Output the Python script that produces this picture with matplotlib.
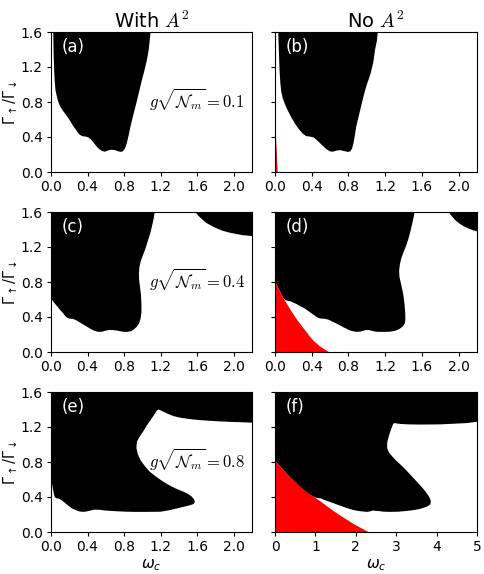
import numpy as np
import matplotlib
matplotlib.use('Agg')
import matplotlib.pyplot as plt

# boundaries of the black (unstable) and red regions
#(a) with A^2, g sqrt(N)=0.1
a_x = [0.025, 0.027, 0.03, 0.035, 0.042, 0.05, 0.065, 0.08, 0.10, 0.13, 0.16, 0.20, 0.24, 0.28, 0.31,
       0.34, 0.38, 0.41, 0.44, 0.47, 0.50, 0.53, 0.56, 0.59, 0.62, 0.66, 0.70, 0.74, 0.77, 0.79, 0.81,
       0.83, 0.85, 0.87, 0.90, 0.93, 0.96, 0.99, 1.02, 1.05, 1.07, 1.08, 1.09]
a_y = [1.60, 1.45, 1.30, 1.15, 1.02, 0.93, 0.86, 0.80, 0.75, 0.70, 0.66, 0.60, 0.53, 0.47, 0.43,
       0.41, 0.405, 0.395, 0.37, 0.33, 0.29, 0.26, 0.24, 0.232, 0.245, 0.255, 0.25, 0.235, 0.23, 0.24, 0.27,
       0.33, 0.42, 0.52, 0.65, 0.77, 0.90, 1.03, 1.15, 1.28, 1.40, 1.50, 1.60]
#(b) no A^2, 0.1
b_x = [0.036, 0.04, 0.045, 0.05, 0.058, 0.068, 0.085, 0.11, 0.14, 0.18, 0.22, 0.26, 0.30, 0.34, 0.38,
       0.42, 0.45, 0.48, 0.52, 0.56, 0.60, 0.63, 0.67, 0.71, 0.75, 0.79, 0.82, 0.84, 0.855, 0.87, 0.885,
       0.91, 0.94, 0.97, 1.00, 1.04, 1.07, 1.09, 1.11, 1.12]
b_y = [1.60, 1.45, 1.30, 1.15, 1.02, 0.92, 0.84, 0.77, 0.70, 0.62, 0.55, 0.49, 0.44, 0.41, 0.405,
       0.395, 0.37, 0.34, 0.30, 0.26, 0.235, 0.232, 0.245, 0.25, 0.24, 0.23, 0.235, 0.27, 0.33, 0.42, 0.52,
       0.63, 0.76, 0.89, 1.00, 1.12, 1.25, 1.40, 1.50, 1.60]
b_red_x = [0.0, 0.0, 0.03]
b_red_y = [0.0, 0.65, 0.0]
#(c) with A^2, 0.4
c_x = [0.0, 0.0, 0.015, 0.04, 0.07, 0.10, 0.135, 0.165, 0.19, 0.22, 0.25, 0.28, 0.32, 0.36, 0.40, 0.44,
       0.48, 0.52, 0.56, 0.60, 0.64, 0.68, 0.72, 0.76, 0.80, 0.84, 0.88, 0.91, 0.94, 0.965, 0.98, 0.99,
       0.99, 0.985, 0.975, 0.965, 0.962, 0.968, 0.98, 1.00, 1.03, 1.06, 1.09, 1.11, 1.125, 1.135]
c_y = [1.60, 0.63, 0.59, 0.555, 0.52, 0.48, 0.44, 0.40, 0.385, 0.38, 0.375, 0.36, 0.335, 0.31, 0.285, 0.26,
       0.24, 0.23, 0.232, 0.245, 0.252, 0.25, 0.245, 0.237, 0.23, 0.23, 0.24, 0.26, 0.29, 0.33, 0.38, 0.45,
       0.55, 0.65, 0.74, 0.82, 0.90, 0.97, 1.03, 1.09, 1.17, 1.27, 1.37, 1.46, 1.53, 1.60]
c2_x = [1.58, 1.61, 1.65, 1.70, 1.76, 1.82, 1.88, 1.95, 2.02, 2.10, 2.20, 2.20]
c2_y = [1.60, 1.56, 1.52, 1.475, 1.44, 1.41, 1.385, 1.365, 1.35, 1.335, 1.325, 1.60]
#(d) no A^2, 0.4
d_x = [0.0, 0.0, 0.03, 0.06, 0.09, 0.11, 0.14, 0.17, 0.20, 0.24, 0.28, 0.32, 0.36, 0.40, 0.44, 0.47,
       0.50, 0.54, 0.58, 0.62, 0.66, 0.70, 0.74, 0.78, 0.82, 0.86, 0.90, 0.94, 0.98, 1.02, 1.06, 1.10,
       1.15, 1.20, 1.25, 1.30, 1.35, 1.39, 1.415, 1.42, 1.418, 1.41, 1.40, 1.385, 1.37, 1.355, 1.352,
       1.36, 1.375, 1.40, 1.43, 1.455, 1.475, 1.495, 1.51, 1.52]
d_y = [1.60, 0.81, 0.745, 0.68, 0.62, 0.595, 0.585, 0.578, 0.565, 0.545, 0.52, 0.50, 0.47, 0.44, 0.41, 0.39,
       0.382, 0.38, 0.37, 0.35, 0.33, 0.31, 0.285, 0.265, 0.245, 0.235, 0.23, 0.235, 0.25, 0.252, 0.24, 0.232,
       0.23, 0.23, 0.232, 0.24, 0.26, 0.29, 0.33, 0.38, 0.45, 0.55, 0.64, 0.72, 0.79, 0.86, 0.93,
       1.00, 1.07, 1.14, 1.22, 1.30, 1.38, 1.47, 1.54, 1.60]
d2_x = [1.89, 1.92, 1.96, 2.00, 2.05, 2.11, 2.16, 2.20, 2.20]
d2_y = [1.60, 1.56, 1.51, 1.475, 1.44, 1.41, 1.39, 1.38, 1.60]
d_red_x = [0.0, 0.0, 0.03, 0.06, 0.09, 0.13, 0.17, 0.21, 0.25, 0.29, 0.33, 0.37, 0.41, 0.45, 0.49, 0.54, 0.586]
d_red_y = [0.0, 0.81, 0.745, 0.68, 0.62, 0.55, 0.48, 0.415, 0.355, 0.30, 0.245, 0.19, 0.14, 0.10, 0.065, 0.03, 0.0]
#(e) with A^2, 0.8
e_x = [0.0, 0.0, 0.01, 0.02, 0.03, 0.04, 0.06, 0.09, 0.12, 0.15, 0.19, 0.23, 0.27, 0.31, 0.35, 0.39,
       0.43, 0.47, 0.52, 0.60, 0.70, 0.80, 0.91, 1.05, 1.20, 1.30, 1.38, 1.46, 1.52, 1.56, 1.575, 1.565,
       1.54, 1.50, 1.44, 1.38, 1.32, 1.26, 1.20, 1.14, 1.08, 1.03, 0.98, 0.95, 0.935, 0.94, 0.97, 1.01,
       1.05, 1.09, 1.13, 1.16, 1.18, 1.22, 1.28, 1.34, 1.42, 1.52, 1.64, 1.78, 1.93, 2.06, 2.20, 2.20]
e_y = [1.60, 0.63, 0.56, 0.50, 0.44, 0.40, 0.385, 0.38, 0.36, 0.335, 0.30, 0.27, 0.25, 0.235, 0.23, 0.235,
       0.245, 0.255, 0.255, 0.245, 0.238, 0.233, 0.23, 0.23, 0.232, 0.25, 0.27, 0.29, 0.305, 0.32, 0.345, 0.375,
       0.405, 0.435, 0.465, 0.49, 0.52, 0.555, 0.595, 0.64, 0.69, 0.75, 0.82, 0.89, 0.96, 1.03, 1.09, 1.15,
       1.22, 1.28, 1.34, 1.39, 1.40, 1.38, 1.35, 1.325, 1.305, 1.29, 1.278, 1.268, 1.26, 1.255, 1.25, 1.60]
#(f) no A^2, 0.8
f_x = [0.0, 0.0, 0.1, 0.2, 0.32, 0.45, 0.52, 0.62, 0.72, 0.82, 0.92, 1.02, 1.12, 1.16, 1.2, 1.35,
       1.5, 1.65, 1.8, 1.95, 2.1, 2.27, 2.35, 2.42, 2.55, 2.7, 2.85, 3.05, 3.25, 3.43, 3.6, 3.76,
       3.84, 3.86, 3.84, 3.79, 3.72, 3.63, 3.52, 3.40, 3.26, 3.12, 3.00, 2.90, 2.82, 2.775, 2.78, 2.82,
       2.87, 2.92, 2.95, 3.1, 3.3, 3.6, 4.09, 4.45, 4.75, 5.0, 5.0]
f_y = [1.60, 0.82, 0.765, 0.71, 0.65, 0.59, 0.56, 0.51, 0.47, 0.44, 0.41, 0.39, 0.385, 0.38, 0.37, 0.345,
       0.32, 0.295, 0.27, 0.25, 0.238, 0.23, 0.235, 0.245, 0.24, 0.232, 0.23, 0.232, 0.24, 0.25, 0.265, 0.29,
       0.315, 0.345, 0.38, 0.42, 0.465, 0.515, 0.57, 0.63, 0.70, 0.765, 0.815, 0.865, 0.91, 0.96, 1.03, 1.10,
       1.17, 1.23, 1.245, 1.235, 1.23, 1.228, 1.23, 1.238, 1.245, 1.26, 1.60]
f_red_x = [0.0, 0.0, 0.1, 0.2, 0.32, 0.45, 0.6, 0.75, 0.9, 1.03, 1.17, 1.3, 1.45, 1.61, 1.78, 1.95, 2.13, 2.31]
f_red_y = [0.0, 0.82, 0.765, 0.71, 0.65, 0.59, 0.53, 0.47, 0.42, 0.38, 0.335, 0.29, 0.24, 0.19, 0.14, 0.09, 0.045, 0.0]

labels = ['(a)', '(b)', '(c)', '(d)', '(e)', '(f)']
couplings = ['0.1', '0.4', '0.8']
black = [[(a_x, a_y)], [(b_x, b_y)], [(c_x, c_y), (c2_x, c2_y)], [(d_x, d_y), (d2_x, d2_y)],
         [(e_x, e_y)], [(f_x, f_y)]]
red = [None, (b_red_x, b_red_y), None, (d_red_x, d_red_y), None, (f_red_x, f_red_y)]

fig = plt.figure(figsize=(4.84, 5.74), dpi=100)
lefts = [51/484, 275/484]
widths = [201/484, 202/484]
bottoms = [1-172/574, 1-352/574, 1-532/574]
h = 140/574

for k in range(6):
    r, c = k // 2, k % 2
    ax = fig.add_axes([lefts[c], bottoms[r], widths[c], h])
    for px, py in black[k]:
        ax.fill(px, py, color='black', lw=0)
    if red[k] is not None:
        ax.fill(red[k][0], red[k][1], color='red', lw=0)
    ax.set_ylim(0, 1.6)
    ax.set_yticks([0.0, 0.4, 0.8, 1.2, 1.6])
    if k == 5:
        ax.set_xlim(0, 5)
        ax.set_xticks([0, 1, 2, 3, 4, 5])
    else:
        ax.set_xlim(0, 2.2)
        ax.set_xticks([0.0, 0.4, 0.8, 1.2, 1.6, 2.0])
    ax.tick_params(labelsize=10, length=3, pad=3)
    if c == 0:
        ax.set_ylabel(r'$\Gamma_\uparrow/\Gamma_\downarrow$', fontsize=10.5)
        ax.yaxis.set_label_coords(-0.155, 0.5)
        ax.text(1.07, 0.82, r'$g\sqrt{\mathcal{N}_m}=' + couplings[r] + '$', fontsize=12,
                math_fontfamily='cm', va='center', ha='left')
    else:
        ax.set_yticklabels([])
    if r == 2:
        ax.set_xlabel(r'$\omega_c$', fontsize=11, labelpad=2)
    ax.text(0.055, 0.955, labels[k], transform=ax.transAxes, color='white', fontsize=12,
            va='top', ha='left')
    if r == 0:
        t = 'With $A^2$' if c == 0 else 'No $A^2$'
        ax.set_title(t, fontsize=14, math_fontfamily='cm', pad=3)

plt.savefig('out.png', dpi=100)
